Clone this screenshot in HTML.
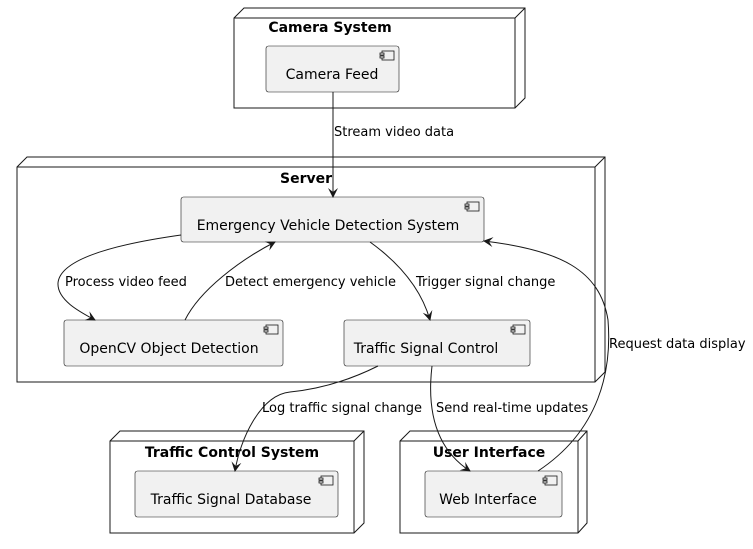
<!DOCTYPE html>
<html><head><meta charset="utf-8"><style>
html,body{margin:0;padding:0;background:#fff;}
svg{display:block;font-family:"DejaVu Sans","Liberation Sans",sans-serif;}
</style></head><body>
<svg width="753" height="549" viewBox="0 0 753 549" xmlns="http://www.w3.org/2000/svg">
<defs>
<marker id="ah" viewBox="0 0 10 10" refX="9" refY="5" markerWidth="10" markerHeight="10" orient="auto-start-reverse" markerUnits="userSpaceOnUse">
<path d="M0,0 L10,5 L0,10 L4,5 Z" fill="#181818"/>
</marker>
<g id="ic"><rect x="0" y="0" width="12" height="9" fill="#f1f1f1" stroke="#181818" stroke-width="0.8"/><rect x="-2" y="2" width="4" height="2" fill="#f1f1f1" stroke="#181818" stroke-width="0.8"/><rect x="-2" y="5" width="4" height="2" fill="#f1f1f1" stroke="#181818" stroke-width="0.8"/></g>
</defs>
<g fill="none" stroke="#181818" stroke-width="1">
<polygon points="234,18 244,8 525,8 525,98 515,108 234,108" fill="#fff"/>
<path d="M234,18 L515,18 L525,8 M515,18 L515,108"/>
<polygon points="17,167 27,157 605,157 605,372 595,382 17,382" fill="#fff"/>
<path d="M17,167 L595,167 L605,157 M595,167 L595,382"/>
<polygon points="110,441 120,431 364,431 364,523 354,533 110,533" fill="#fff"/>
<path d="M110,441 L354,441 L364,431 M354,441 L354,533"/>
<polygon points="400,441 410,431 587,431 587,523 578,533 400,533" fill="#fff"/>
<path d="M400,441 L578,441 L587,431 M578,441 L578,533"/>
</g>
<g fill="#f1f1f1" stroke="#181818" stroke-width="0.6">
<rect x="266" y="46" width="133" height="46" rx="2.5"/>
<rect x="181" y="197" width="303" height="45" rx="2.5"/>
<rect x="64" y="320" width="219" height="46" rx="2.5"/>
<rect x="344" y="320" width="186" height="46" rx="2.5"/>
<rect x="135" y="471" width="203" height="46" rx="2.5"/>
<rect x="425" y="471" width="137" height="46" rx="2.5"/>
</g>
<use href="#ic" x="382" y="51"/>
<use href="#ic" x="467" y="202"/>
<use href="#ic" x="266" y="325"/>
<use href="#ic" x="513" y="325"/>
<use href="#ic" x="321" y="476"/>
<use href="#ic" x="545" y="476"/>
<g font-size="14" font-weight="bold" fill="#000" text-anchor="middle">
<text x="330" y="32">Camera System</text>
<text x="306" y="183">Server</text>
<text x="232" y="457">Traffic Control System</text>
<text x="489" y="457">User Interface</text>
</g>
<g font-size="14" fill="#000" text-anchor="middle">
<text x="332" y="79">Camera Feed</text>
<text x="328" y="230">Emergency Vehicle Detection System</text>
<text x="169" y="353">OpenCV Object Detection</text>
<text x="426" y="353">Traffic Signal Control</text>
<text x="231" y="504">Traffic Signal Database</text>
<text x="488" y="504">Web Interface</text>
</g>
<g fill="none" stroke="#181818" stroke-width="1" marker-end="url(#ah)">
<path d="M333,92 L333,197"/>
<path d="M181,235 C110,245 60,260 58,283 C57,300 80,312 95,320"/>
<path d="M185,320 C200,290 240,260 275,242"/>
<path d="M370,242 C395,260 420,285 430,320"/>
<path d="M538,471 C600,430 612,370 608,320 C600,270 560,250 484,241"/>
<path d="M378,366 C340,385 310,390 290,392 C260,395 240,440 235,471"/>
<path d="M432,366 C428,400 430,445 470,471"/>
</g>
<g font-size="13" fill="#000">
<text x="334" y="136">Stream video data</text>
<text x="65" y="286">Process video feed</text>
<text x="225" y="286">Detect emergency vehicle</text>
<text x="416" y="286">Trigger signal change</text>
<text x="609" y="348">Request data display</text>
<text x="262" y="412">Log traffic signal change</text>
<text x="436" y="412">Send real-time updates</text>
</g>
</svg>
</body></html>
